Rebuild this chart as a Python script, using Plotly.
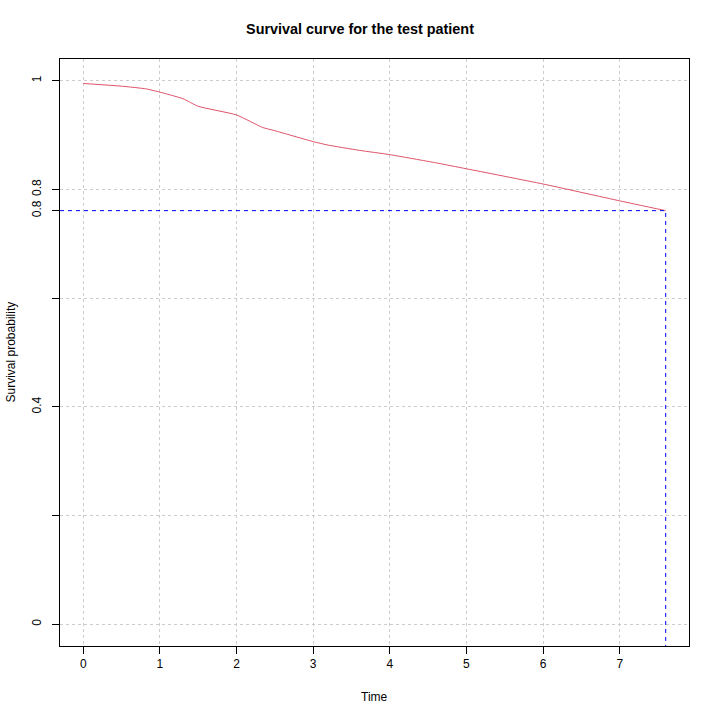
import numpy as np
import plotly.graph_objects as go

# survival estimate for the test patient
time = [0, 0.5, 0.82, 1.0, 1.3, 1.5, 2.0, 2.34, 2.5, 3.0, 3.18, 3.6, 4.0, 4.6, 5.0, 6.0, 7.0, 7.6]
surv = [0.995, 0.990, 0.985, 0.979, 0.967, 0.953, 0.937, 0.914, 0.908, 0.888, 0.882,
        0.872, 0.864, 0.849, 0.838, 0.810, 0.779, 0.761]

x_ticks = [0, 1, 2, 3, 4, 5, 6, 7]
y_ticks = [0, 0.2, 0.4, 0.6, 0.8, 1]
y_labels = ["0", "", "0.4", "", "0.8", "1"]

title = "Survival curve for the test patient"
font = "Liberation Sans, Arial, Helvetica, sans-serif"

# R style 4% padding on the axis ranges
t_end = time[-1]
s_end = surv[-1]
xr = [min(time) - 0.04 * (t_end - min(time)), t_end + 0.04 * (t_end - min(time))]
yr = [-0.04, 1.04]

fig = go.Figure()

fig.add_trace(go.Scatter(
    x=time, y=surv, mode="lines",
    line=dict(color="#DF536B", width=1, shape="spline", smoothing=0.5),
    showlegend=False,
))

# blue dashed guide to the last time point
fig.add_trace(go.Scatter(
    x=[xr[0], t_end, t_end], y=[s_end, s_end, yr[0]], mode="lines",
    line=dict(color="#0000FF", width=1, dash="4px,4px"),
    showlegend=False,
))

# extra tick for the final survival value
fig.add_trace(go.Scatter(x=[t_end], y=[s_end], yaxis="y2", mode="markers",
                         marker=dict(opacity=0), showlegend=False, hoverinfo="skip"))

axis_common = dict(
    showline=True, linecolor="black", linewidth=1, mirror=True,
    ticks="outside", ticklen=7, tickcolor="black", tickwidth=1,
    tickfont=dict(family=font, size=12, color="black"),
    zeroline=False, automargin=False,
    gridcolor="#CCCCCC", griddash="3px,3px", gridwidth=1,
)

fig.update_layout(
    width=720, height=720,
    margin=dict(l=60, r=31, t=59, b=74, autoexpand=False),
    paper_bgcolor="white", plot_bgcolor="white",
    font=dict(family=font, size=12, color="black"),
    title=dict(text="<b>" + title + "</b>", x=0.5, xanchor="center",
               y=1 - 29 / 720, yref="container", yanchor="middle",
               font=dict(family=font, size=14.4, color="black")),
    xaxis=dict(range=xr, tickvals=x_ticks, showgrid=True, **axis_common),
    yaxis=dict(range=yr, tickvals=y_ticks, ticktext=y_labels, tickangle=-90,
               showgrid=True, ticklabelstandoff=6, **axis_common),
    yaxis2=dict(range=yr, overlaying="y", side="left", tickvals=[s_end],
                ticktext=[str(round(s_end, 1))], tickangle=-90, showgrid=False,
                showline=False, ticks="outside", ticklen=7, tickcolor="black",
                ticklabelstandoff=6, automargin=False,
                tickfont=dict(family=font, size=12, color="black"), zeroline=False),
    annotations=[
        dict(text="Time", xref="paper", yref="paper", x=0.5, y=0, yshift=-51,
             showarrow=False, xanchor="center", yanchor="middle",
             font=dict(family=font, size=12)),
        dict(text="Survival probability", xref="paper", yref="paper", x=0, y=0.5,
             xshift=-50, textangle=-90, showarrow=False, xanchor="center",
             yanchor="middle", font=dict(family=font, size=12)),
    ],
)

# drop the default page margin so the figure sits at the window corner
fig.write_html("out.html", config={"displayModeBar": False},
               post_script="document.body.style.margin='0px';")
